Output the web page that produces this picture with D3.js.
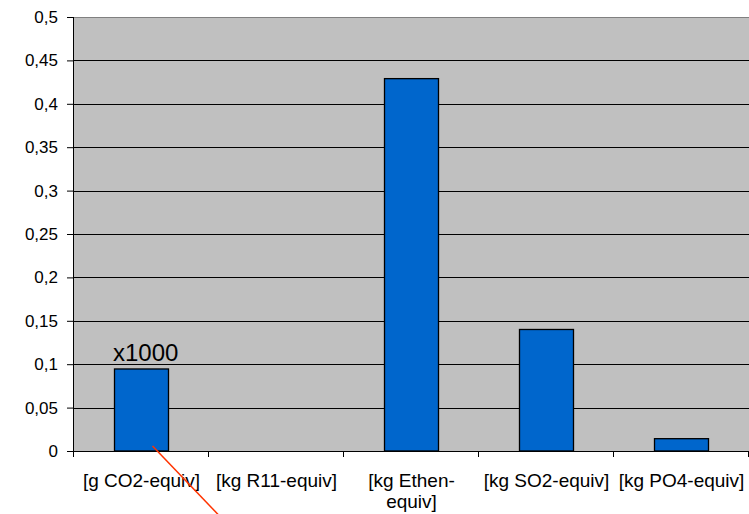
<!DOCTYPE html>
<html>
<head>
<meta charset="utf-8">
<script src="https://cdn.jsdelivr.net/npm/d3@7"></script>
<style>
  body { margin: 0; background: #fff; }
  svg text { font-family: Arial, "Liberation Sans", sans-serif; fill: #000; }
</style>
</head>
<body>
<div id="chart"></div>
<script>
// Chart data
const categories = ["[g CO2-equiv]", "[kg R11-equiv]", "[kg Ethen-equiv]", "[kg SO2-equiv]", "[kg PO4-equiv]"];
const labelLines = [["[g CO2-equiv]"], ["[kg R11-equiv]"], ["[kg Ethen-", "equiv]"], ["[kg SO2-equiv]"], ["[kg PO4-equiv]"]];
const values = [0.0945, 0, 0.429, 0.14, 0.0142];
const yTicks = [0, 0.05, 0.1, 0.15, 0.2, 0.25, 0.3, 0.35, 0.4, 0.45, 0.5];
const note = "x1000";

const W = 749, H = 514;
const margin = {top: 17, right: 1, bottom: 63, left: 73},
      width = W - margin.left - margin.right,
      height = H - margin.top - margin.bottom;

const svg = d3.select("#chart")
              .append("svg")
              .attr("width", W)
              .attr("height", H);

const g = svg.append("g")
             .attr("transform", `translate(${margin.left},${margin.top})`);

// Scales
const x = d3.scaleBand()
            .domain(categories)
            .range([0, width])
            .paddingInner(0.6)
            .paddingOuter(0.3);

const y = d3.scaleLinear()
            .domain([0, 0.5])
            .range([height, 0]);

// Plot area background
g.append("rect")
 .attr("width", width + 2)
 .attr("height", height)
 .attr("fill", "#c0c0c0");

// Gridlines
g.selectAll(".grid")
 .data(yTicks.filter(d => d > 0 && d < 0.5))
 .enter()
 .append("line")
 .attr("x1", 0)
 .attr("x2", width + 2)
 .attr("y1", d => Math.round(y(d)) + 0.5)
 .attr("y2", d => Math.round(y(d)) + 0.5)
 .attr("stroke", "#000")
 .attr("stroke-width", 1);

// top border
g.append("line")
 .attr("x1", 0).attr("x2", width + 2)
 .attr("y1", 0.5).attr("y2", 0.5)
 .attr("stroke", "#808080");

// Bars
g.selectAll(".bar")
 .data(values)
 .enter()
 .append("rect")
 .attr("class", "bar")
 .attr("x", (d, i) => Math.round(x(categories[i])) + 0.5)
 .attr("y", d => y(d))
 .attr("width", x.bandwidth())
 .attr("height", d => height - y(d))
 .attr("fill", "#0066cc")
 .attr("stroke", "#000")
 .attr("stroke-width", 1.3)
 .attr("display", d => d > 0 ? null : "none");

// Y axis
const yAxis = g.append("g")
 .call(d3.axisLeft(y)
         .tickValues(yTicks)
         .tickSize(6)
         .tickFormat(d => String(d).replace(".", ",")));
yAxis.select(".domain").attr("stroke", "#000").attr("d", `M0.5,0V${height}`);
yAxis.selectAll(".tick line").attr("stroke", "#000");
yAxis.selectAll("text")
     .attr("x", -15)
     .style("font-size", "17px");

// X axis: ticks at band boundaries
const xb = d3.scaleLinear().domain([0, categories.length]).range([0, width]);
const xAxis = g.append("g")
 .attr("transform", `translate(0,${height})`)
 .call(d3.axisBottom(xb)
         .ticks(categories.length)
         .tickSize(6)
         .tickFormat(""));
xAxis.select(".domain").attr("stroke", "#000").attr("d", `M0,0.5H${width + 2}`);
xAxis.selectAll(".tick line").attr("stroke", "#000");

// X labels
const lbl = g.selectAll(".xlabel")
 .data(labelLines)
 .enter()
 .append("text")
 .attr("class", "xlabel")
 .attr("text-anchor", "middle")
 .attr("x", (d, i) => x(categories[i]) + x.bandwidth() / 2 + 1)
 .attr("y", height + 36)
 .style("font-size", "19px");
lbl.selectAll("tspan")
   .data(d => d)
   .enter()
   .append("tspan")
   .attr("x", function() { return d3.select(this.parentNode).attr("x"); })
   .attr("dy", (d, i) => i === 0 ? 0 : 21)
   .text(d => d);

// Annotation
g.append("text")
 .attr("x", x(categories[0]) - 0.5)
 .attr("y", y(values[0]) - 8)
 .style("font-size", "24px")
 .text(note);

// Red pointer line
g.append("line")
 .attr("x1", x(categories[0]) + 39)
 .attr("y1", height - 5)
 .attr("x2", x(categories[0]) + 107)
 .attr("y2", height + 66)
 .attr("stroke", "#ff3300")
 .attr("stroke-width", 1.5);
</script>
</body>
</html>
